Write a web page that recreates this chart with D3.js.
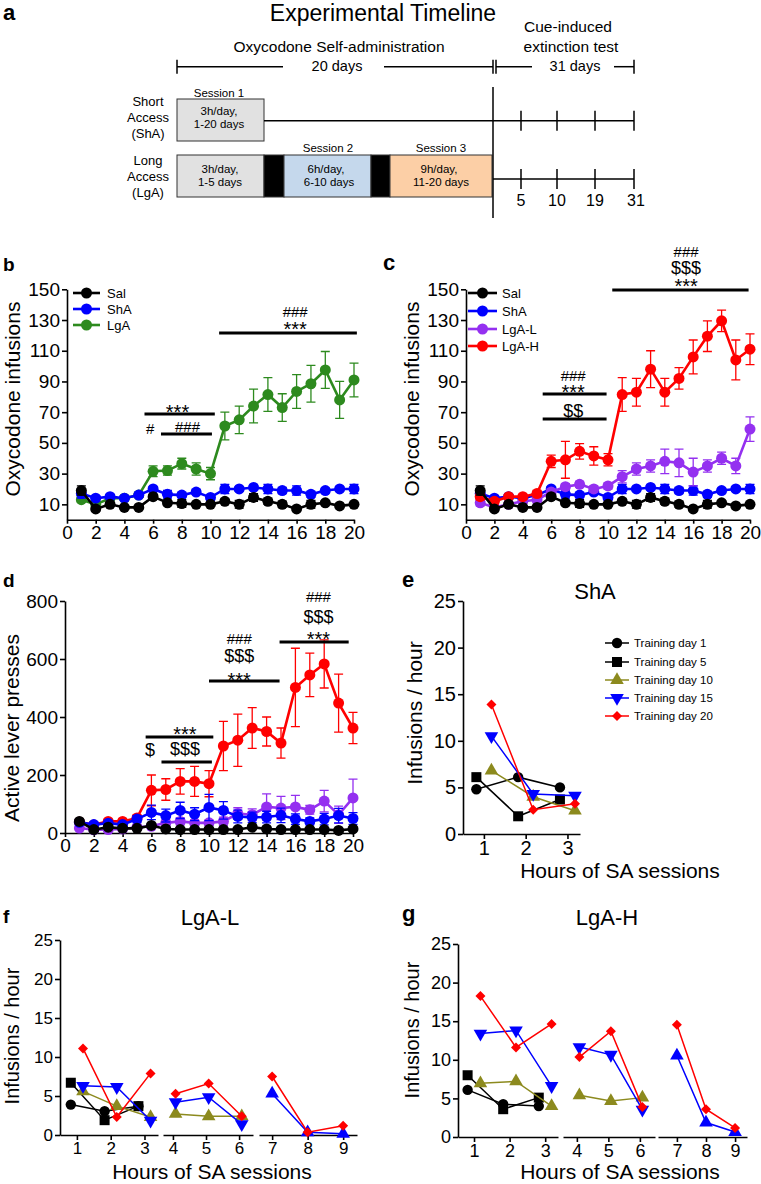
<!DOCTYPE html>
<html>
<head>
<meta charset="utf-8">
<title>Oxycodone self-administration</title>
<script src="https://cdnjs.cloudflare.com/ajax/libs/d3/7.8.5/d3.min.js"></script>
<style>
  body { margin: 0; background: #fff; }
</style>
</head>
<body>
<svg width="761" height="1184"></svg>
<script>
// ---- data ----
var days = d3.range(1, 21);

var salInf     = [19, 7, 10, 8, 8, 15, 11, 10.5, 10, 10, 12, 10, 14.5, 12, 10, 7, 10, 11, 9, 10];
var salInfErr  = [3, 1.5, 1.5, 1, 1, 1.5, 1.5, 2.5, 1, 1, 1.5, 2.5, 2.5, 2, 2, 1, 2.5, 1, 1, 1];
var shaInf     = [17, 14, 15, 14, 16, 20, 16.5, 16, 18, 14.5, 20, 20, 21, 20, 19, 19, 16.5, 19, 20, 20];
var shaInfErr  = [3, 1.5, 1.5, 1.5, 1.5, 1.5, 2.5, 1.5, 1.5, 1.5, 3, 1.5, 1.5, 3, 2, 3, 2, 1.5, 1.5, 3];
var lgaInf     = [13, 10, 14, 14, 16, 31.5, 32, 36.5, 33, 30, 61, 65, 74, 81.5, 73, 83.5, 88.5, 97.5, 78, 91];
var lgaInfErr  = [1.5, 1.5, 1.5, 1.5, 1.5, 3.5, 3, 3.5, 4, 4, 9, 9, 11, 11, 9, 11, 12, 12, 12, 11];
var lgaLInf    = [11, 8, 10, 12, 13, 18, 21.5, 23, 20, 22, 28, 33, 35, 38, 37, 31, 35, 40, 35, 59];
var lgaLInfErr = [2, 1.5, 1.5, 1.5, 2, 2, 2, 2, 2, 2, 4, 4, 4, 8, 9, 9, 4, 4, 5, 8];
var lgaHInf    = [15, 12, 15, 15, 17, 38, 39, 44.5, 41.5, 39, 81.5, 83, 98, 83, 92, 106, 119.5, 129.5, 104, 111];
var lgaHInfErr = [2, 1.5, 1.5, 1.5, 2, 4, 12, 5, 6, 4, 11, 9, 12, 9, 7, 11, 10, 7, 13, 10];

var salPress     = [40, 12, 20, 16, 16, 26, 14, 12, 12, 12, 12, 12, 20, 14, 12, 12, 12, 12, 9, 14];
var salPressErr  = [8, 5, 5, 5, 5, 6, 5, 5, 5, 5, 5, 5, 6, 5, 5, 5, 5, 5, 5, 5];
var shaPress     = [37, 29, 34, 29, 48, 71, 60, 78, 65, 88, 78, 57, 54, 55, 61, 48, 40, 48, 60, 50];
var shaPressErr  = [10, 8, 8, 8, 12, 25, 22, 28, 22, 45, 30, 22, 18, 20, 25, 18, 12, 20, 25, 20];
var lgaLPress    = [17, 11, 12, 14, 20, 23, 35, 40, 35, 35, 40, 67, 63, 90, 86, 90, 80, 110, 63, 121];
var lgaLPressErr = [6, 5, 5, 5, 6, 8, 10, 12, 10, 10, 15, 20, 20, 45, 40, 40, 15, 37, 30, 65];
var lgaHPress    = [38, 28, 40, 40, 52, 147, 150, 178, 178, 170, 300, 320, 362, 350, 310, 502, 545, 583, 448, 362];
var lgaHPressErr = [8, 6, 8, 8, 10, 53, 37, 44, 52, 45, 85, 90, 70, 50, 52, 135, 75, 83, 100, 54];

var trainingDays = ["Training day 1", "Training day 5", "Training day 10", "Training day 15", "Training day 20"];
var shaHours = [1, 2, 3];
var shaDay1  = [4.8, 6.1, 5.0];
var shaDay5  = [6.1, 1.9, 3.7];
var shaDay10 = [6.8, 4.0, 2.5];
var shaDay15 = [10.5, 4.3, 4.1];
var shaDay20 = [13.9, 2.6, 3.25];

var lgaHours  = [1, 2, 3, 4, 5, 6, 7, 8, 9];
var lgaLDay1  = [3.9, 3.05, 3.7, null, null, null, null, null, null];
var lgaLDay5  = [6.7, 1.9, 3.7, null, null, null, null, null, null];
var lgaLDay10 = [5.6, 3.7, 2.3, 2.7, 2.4, 2.4, null, null, null];
var lgaLDay15 = [6.3, 6.15, 1.85, 4.2, 4.85, 1.4, 5.3, 0.35, 0.15];
var lgaLDay20 = [11.1, 2.3, 7.9, 5.3, 6.6, 2.4, 7.5, 0.35, 1.2];
var lgaHDay1  = [6.1, 4.25, 4.0, null, null, null, null, null, null];
var lgaHDay5  = [8.0, 3.6, 5.1, null, null, null, null, null, null];
var lgaHDay10 = [6.95, 7.2, 4.0, 5.4, 4.65, 5.1, null, null, null];
var lgaHDay15 = [13.4, 13.8, 6.6, 11.65, 10.65, 3.55, 10.55, 1.87, 0.65];
var lgaHDay20 = [18.25, 11.6, 14.65, 10.35, 13.7, 3.9, 14.55, 3.6, 1.17];

// significance annotations: [x0, x1, y] for bars, [text, x, y] for labels (data units)
var sigBarsB = [[5.4, 10.3, 68.8], [6.55, 10.1, 55.8], [10.6, 20.2, 121.6]];
var sigTextB = [["***", 7.7, 65.5], ["#", 5.8, 55.8], ["###", 8.4, 57], ["***", 15.9, 119.6], ["###", 15.9, 132]];
var sigBarsC = [[5.4, 9.9, 81.8], [5.4, 9.9, 65.6], [10.3, 19.9, 149.5]];
var sigTextC = [["###", 7.55, 90], ["***", 7.55, 78.8], ["$$", 7.55, 66.8],
                ["***", 15.5, 147.3], ["$$$", 15.5, 160], ["###", 15.5, 171]];
var sigBarsD = [[5.6, 10.3, 331], [6.7, 10.2, 245], [10.0, 14.9, 524], [14.9, 19.7, 659]];
var sigTextD = [["***", 8.33, 318.6], ["$", 5.9, 264.5], ["$$$", 8.33, 269],
                ["***", 12.1, 505], ["$$$", 12.1, 590], ["###", 12.1, 652],
                ["***", 17.6, 646], ["$$$", 17.6, 724], ["###", 17.6, 797]];

var extinctionDays = [5, 10, 19, 31];

// ---- drawing ----
var svg = d3.select("svg");
var FONT = '"Liberation Sans", Arial, Helvetica, sans-serif';
svg.attr("font-family", FONT);

var C = { sal: "#000000", sha: "#0000ff", lga: "#2d8a1e", lgaL: "#9430f0", lgaH: "#ff0000", olive: "#8c8a1e" };

function styleAxis(sel, fs) {
  sel.attr("font-family", FONT).attr("font-size", fs);
  sel.selectAll("path, line").attr("stroke", "#000").attr("stroke-width", 1.6);
  sel.selectAll("text").attr("fill", "#000");
}

function text(x, y, t, size, opts) {
  opts = opts || {};
  var el = svg.append("text").attr("x", x).attr("y", y).attr("font-size", size)
    .attr("text-anchor", opts.anchor || "middle").text(t);
  if (opts.bold) el.attr("font-weight", "bold");
  if (opts.rotate) el.attr("transform", "rotate(-90," + x + "," + y + ")");
  return el;
}

// panel letters
text(3, 20, "a", 22, { anchor: "start", bold: true });
text(3, 271, "b", 19, { anchor: "start", bold: true });
text(383, 270, "c", 22, { anchor: "start", bold: true });
text(3, 587, "d", 19, { anchor: "start", bold: true });
text(402, 587, "e", 22, { anchor: "start", bold: true });
text(3, 923, "f", 19, { anchor: "start", bold: true });
text(402, 921, "g", 22, { anchor: "start", bold: true });

// ---- panel a: timeline ----
(function () {
  var g = svg.append("g").attr("fill", "#000");
  var ex = d3.scaleLinear().domain([0].concat(extinctionDays)).range([493, 521, 557, 595, 634]);
  function t(x, y, s, size) {
    g.append("text").attr("x", x).attr("y", y).attr("text-anchor", "middle").attr("font-size", size).text(s);
  }
  function line(x1, y1, x2, y2, w) {
    g.append("line").attr("x1", x1).attr("y1", y1).attr("x2", x2).attr("y2", y2)
      .attr("stroke", "#000").attr("stroke-width", w || 1.5);
  }
  t(383, 21, "Experimental Timeline", 23);
  t(339, 52, "Oxycodone Self-administration", 15.5);
  t(568, 32, "Cue-induced", 15.5);
  t(571, 52, "extinction test", 15.5);
  t(337, 71, "20 days", 14.5);
  t(575, 71, "31 days", 14.5);

  var by = 66.7;
  line(177, by, 283, by); line(384, by, ex(0), by); line(ex(0) + 3, by, 532, by); line(614, by, ex(31), by);
  line(177, by - 7, 177, by + 7); line(ex(0), by - 7, ex(0), by + 7);
  line(ex(0) + 3, by - 7, ex(0) + 3, by + 7); line(ex(31), by - 7, ex(31), by + 7);

  // group labels
  [["Short", 106], ["Access", 122], ["(ShA)", 138], ["Long", 165], ["Access", 181], ["(LgA)", 197]]
    .forEach(function (d) { t(148, d[1], d[0], 13); });

  // ShA row
  g.append("rect").attr("x", 177).attr("y", 99).attr("width", 87).attr("height", 42)
    .attr("fill", "#e1e1e1").attr("stroke", "#333").attr("stroke-width", 1);
  t(219, 97, "Session 1", 11.5);
  t(219, 115, "3h/day,", 11.5);
  t(219, 128, "1-20 days", 11.5);
  line(264, 120.7, ex(31), 120.7);

  // LgA row
  var blocks = [[177, 264, "#e1e1e1"], [264, 284, "#000"], [284, 371, "#c5d8ec"], [371, 390, "#000"], [390, 492, "#fccfa6"]];
  blocks.forEach(function (b) {
    g.append("rect").attr("x", b[0]).attr("y", 155).attr("width", b[1] - b[0]).attr("height", 42)
      .attr("fill", b[2]).attr("stroke", "#333").attr("stroke-width", 1);
  });
  t(220, 173, "3h/day,", 11.5); t(220, 186, "1-5 days", 11.5);
  t(328, 152, "Session 2", 11.5);
  t(326, 173, "6h/day,", 11.5); t(329, 186, "6-10 days", 11.5);
  t(441, 152, "Session 3", 11.5);
  t(439, 173, "9h/day,", 11.5); t(441, 186, "11-20 days", 11.5);
  line(ex(0), 179, ex(31), 179);

  line(ex(0), 87, ex(0), 218);
  extinctionDays.forEach(function (d) {
    line(ex(d), 110.7, ex(d), 130.7);
    line(ex(d), 169, ex(d), 189);
    t(ex(d) + (d === 31 ? 2 : 0), 206, String(d), 16);
  });
})();

// ---- panels b, c, d: daily curves ----
function dailyPanel(o) {
  var x = d3.scaleLinear().domain([0, 20]).range([o.left, o.right]);
  var y = d3.scaleLinear().domain([0, o.ymax]).range([o.bottom, o.top]);

  svg.append("g").attr("transform", "translate(0," + o.bottom + ")")
    .call(d3.axisBottom(x).tickValues(d3.range(0, 21, 2)).tickFormat(d3.format("d"))
      .tickSize(4).tickPadding(2).tickSizeOuter(0))
    .call(styleAxis, 19);
  svg.append("g").attr("transform", "translate(" + o.left + ",0)")
    .call(d3.axisLeft(y).tickValues(o.yticks).tickFormat(d3.format("d"))
      .tickSize(5).tickPadding(2).tickSizeOuter(0))
    .call(styleAxis, 19);

  text(o.labelX, o.labelY, o.ylabel, 21, { rotate: true }).attr("dy", "0.35em");

  o.series.forEach(function (s) {
    var pts = days.map(function (d, i) { return { d: d, v: s.values[i], e: s.err[i] }; });
    var g = svg.append("g");
    g.selectAll(".eb").data(pts).enter().append("path")
      .attr("d", function (p) {
        var xx = x(p.d), y0 = y(Math.max(0, p.v - p.e)), y1 = y(p.v + p.e);
        return "M" + xx + "," + y0 + "V" + y1 + "M" + (xx - 4.5) + "," + y1 + "H" + (xx + 4.5) +
          "M" + (xx - 4.5) + "," + y0 + "H" + (xx + 4.5);
      })
      .attr("fill", "none").attr("stroke", s.color).attr("stroke-width", 1.3);
    g.append("path").datum(pts)
      .attr("d", d3.line().x(function (p) { return x(p.d); }).y(function (p) { return y(p.v); }))
      .attr("fill", "none").attr("stroke", s.color).attr("stroke-width", 2.6);
    g.selectAll("circle").data(pts).enter().append("circle")
      .attr("cx", function (p) { return x(p.d); })
      .attr("cy", function (p) { return y(p.v); })
      .attr("r", 5.5).attr("fill", s.color);
  });

  // legend
  if (o.legend) {
    o.legend.rows.forEach(function (r, i) {
      var ly = o.legend.y[i];
      svg.append("line").attr("x1", o.legend.x0).attr("x2", o.legend.x1).attr("y1", ly).attr("y2", ly)
        .attr("stroke", r.color).attr("stroke-width", 2.6);
      svg.append("circle").attr("cx", (o.legend.x0 + o.legend.x1) / 2).attr("cy", ly).attr("r", 5.5).attr("fill", r.color);
      text(o.legend.tx, ly, r.name, 13, { anchor: "start" }).attr("dy", "0.35em");
    });
  }

  // significance
  o.sigBars.forEach(function (b) {
    svg.append("line").attr("x1", x(b[0])).attr("x2", x(b[1])).attr("y1", y(b[2])).attr("y2", y(b[2]))
      .attr("stroke", "#000").attr("stroke-width", 3);
  });
  o.sigText.forEach(function (s) {
    var size = s[0].charAt(0) === "*" ? 20 : (s[0].charAt(0) === "$" ? 18 : 15);
    text(x(s[1]), y(s[2]), s[0], size);
  });
}

dailyPanel({
  left: 67, right: 354, top: 289.3, bottom: 519.7, ymax: 150, yticks: d3.range(10, 151, 20),
  ylabel: "Oxycodone infusions", labelX: 13, labelY: 399,
  series: [
    { color: C.lga, values: lgaInf, err: lgaInfErr },
    { color: C.sha, values: shaInf, err: shaInfErr },
    { color: C.sal, values: salInf, err: salInfErr }
  ],
  legend: { x0: 73, x1: 100, tx: 107, y: [293, 309, 325],
    rows: [{ name: "Sal", color: C.sal }, { name: "ShA", color: C.sha }, { name: "LgA", color: C.lga }] },
  sigBars: sigBarsB, sigText: sigTextB
});

dailyPanel({
  left: 466, right: 750, top: 289.3, bottom: 519.7, ymax: 150, yticks: d3.range(10, 151, 20),
  ylabel: "Oxycodone infusions", labelX: 412, labelY: 399,
  series: [
    { color: C.sha, values: shaInf, err: shaInfErr },
    { color: C.lgaL, values: lgaLInf, err: lgaLInfErr },
    { color: C.lgaH, values: lgaHInf, err: lgaHInfErr },
    { color: C.sal, values: salInf, err: salInfErr }
  ],
  legend: { x0: 468, x1: 497, tx: 502, y: [293, 311, 329, 346],
    rows: [{ name: "Sal", color: C.sal }, { name: "ShA", color: C.sha },
           { name: "LgA-L", color: C.lgaL }, { name: "LgA-H", color: C.lgaH }] },
  sigBars: sigBarsC, sigText: sigTextC
});

dailyPanel({
  left: 65, right: 353, top: 601, bottom: 833, ymax: 800, yticks: d3.range(0, 801, 200),
  ylabel: "Active lever presses", labelX: 12, labelY: 728,
  series: [
    { color: C.lgaH, values: lgaHPress, err: lgaHPressErr },
    { color: C.lgaL, values: lgaLPress, err: lgaLPressErr },
    { color: C.sha, values: shaPress, err: shaPressErr },
    { color: C.sal, values: salPress, err: salPressErr }
  ],
  sigBars: sigBarsD, sigText: sigTextD
});

// ---- panels e, f, g: infusions per hour ----
var dayStyle = [
  { color: C.sal, symbol: d3.symbolCircle, size: 85, rot: 0 },
  { color: C.sal, symbol: d3.symbolSquare, size: 100, rot: 0 },
  { color: C.olive, symbol: d3.symbolTriangle, size: 80, rot: 0 },
  { color: C.sha, symbol: d3.symbolTriangle, size: 80, rot: 180 },
  { color: C.lgaH, symbol: d3.symbolSquare, size: 50, rot: 45 }
];

function hourPanel(o) {
  var y = d3.scaleLinear().domain([0, 25]).range([o.bottom, o.top]);
  svg.append("g").attr("transform", "translate(" + o.left + ",0)")
    .call(d3.axisLeft(y).tickValues(d3.range(0, 26, 5)).tickFormat(d3.format("d"))
      .tickSize(5).tickPadding(2).tickSizeOuter(0))
    .call(styleAxis, o.fs);

  text(o.title[0], o.title[1], o.title[2], 22);
  text(o.ylab[0], o.ylab[1], "Infusions / hour", o.labFs, { rotate: true }).attr("dy", "0.35em");
  text(o.xlab[0], o.xlab[1], "Hours of SA sessions", 21);

  o.segments.forEach(function (seg) {
    var x = d3.scaleLinear().domain(seg.domain).range(seg.range);
    svg.append("g").attr("transform", "translate(0," + o.bottom + ")")
      .call(d3.axisBottom(x).tickValues(seg.ticks).tickFormat(d3.format("d"))
        .tickSize(5).tickPadding(2).tickSizeOuter(0))
      .call(styleAxis, o.fs);

    o.series.forEach(function (vals, si) {
      var st = dayStyle[si];
      var pts = [];
      o.hours.forEach(function (h, i) {
        if (h >= seg.ticks[0] && h <= seg.ticks[seg.ticks.length - 1] && vals[i] != null)
          pts.push({ h: h + seg.shift[si], v: vals[i] });
      });
      if (!pts.length) return;
      var g = svg.append("g");
      g.append("path").datum(pts)
        .attr("d", d3.line().x(function (p) { return x(p.h); }).y(function (p) { return y(p.v); }))
        .attr("fill", "none").attr("stroke", st.color).attr("stroke-width", 1.5);
      var rot = (seg.upright && si === 3) ? 0 : st.rot;
      g.selectAll("path.m").data(pts).enter().append("path").attr("class", "m")
        .attr("d", d3.symbol().type(st.symbol).size(st.size))
        .attr("transform", function (p) { return "translate(" + x(p.h) + "," + y(p.v) + ") rotate(" + rot + ")"; })
        .attr("fill", st.color);
    });
  });

  if (o.legend) {
    trainingDays.forEach(function (name, i) {
      var st = dayStyle[i], ly = o.legend.y[i];
      svg.append("line").attr("x1", o.legend.x0).attr("x2", o.legend.x1).attr("y1", ly).attr("y2", ly)
        .attr("stroke", st.color).attr("stroke-width", 1.5);
      svg.append("path").attr("d", d3.symbol().type(st.symbol).size(st.size))
        .attr("transform", "translate(" + ((o.legend.x0 + o.legend.x1) / 2) + "," + ly + ") rotate(" + st.rot + ")")
        .attr("fill", st.color);
      text(o.legend.tx, ly, name, 11.5, { anchor: "start" }).attr("dy", "0.35em");
    });
  }
}

var firstSegShift = [-0.18, -0.18, 0.18, 0.18, 0.18];

hourPanel({
  left: 463, top: 601, bottom: 834, fs: 20, labFs: 21,
  title: [595, 599, "ShA"], ylab: [415, 713], xlab: [620, 878],
  hours: shaHours, series: [shaDay1, shaDay5, shaDay10, shaDay15, shaDay20],
  segments: [{ domain: [0.5, 3.3], range: [463, 580], ticks: [1, 2, 3], shift: firstSegShift }],
  legend: { x0: 605, x1: 629, tx: 634, y: [643, 662, 680, 698, 716] }
});

hourPanel({
  left: 60, top: 940, bottom: 1135, fs: 17, labFs: 20,
  title: [210, 925, "LgA-L"], ylab: [12, 1036], xlab: [212, 1179],
  hours: lgaHours, series: [lgaLDay1, lgaLDay5, lgaLDay10, lgaLDay15, lgaLDay20],
  segments: [
    { domain: [0.5, 3.4], range: [60, 158], ticks: [1, 2, 3], shift: firstSegShift },
    { domain: [3.7, 6.42], range: [163, 253], ticks: [4, 5, 6], shift: [0.08, 0.08, 0.08, 0.08, 0.08] },
    { domain: [6.63, 9.39], range: [259, 357], ticks: [7, 8, 9], shift: [0, 0, 0, 0, 0], upright: true }
  ]
});

hourPanel({
  left: 458, top: 944, bottom: 1137, fs: 18, labFs: 20,
  title: [607, 925, "LgA-H"], ylab: [412, 1030], xlab: [620, 1179],
  hours: lgaHours, series: [lgaHDay1, lgaHDay5, lgaHDay10, lgaHDay15, lgaHDay20],
  segments: [
    { domain: [0.55, 3.36], range: [458, 558], ticks: [1, 2, 3], shift: firstSegShift },
    { domain: [3.56, 6.48], range: [563, 655], ticks: [4, 5, 6], shift: [0.08, 0.08, 0.08, 0.08, 0.08] },
    { domain: [6.35, 9.41], range: [658, 747], ticks: [7, 8, 9], shift: [0, 0, 0, 0, 0], upright: true }
  ]
});
</script>
</body>
</html>
